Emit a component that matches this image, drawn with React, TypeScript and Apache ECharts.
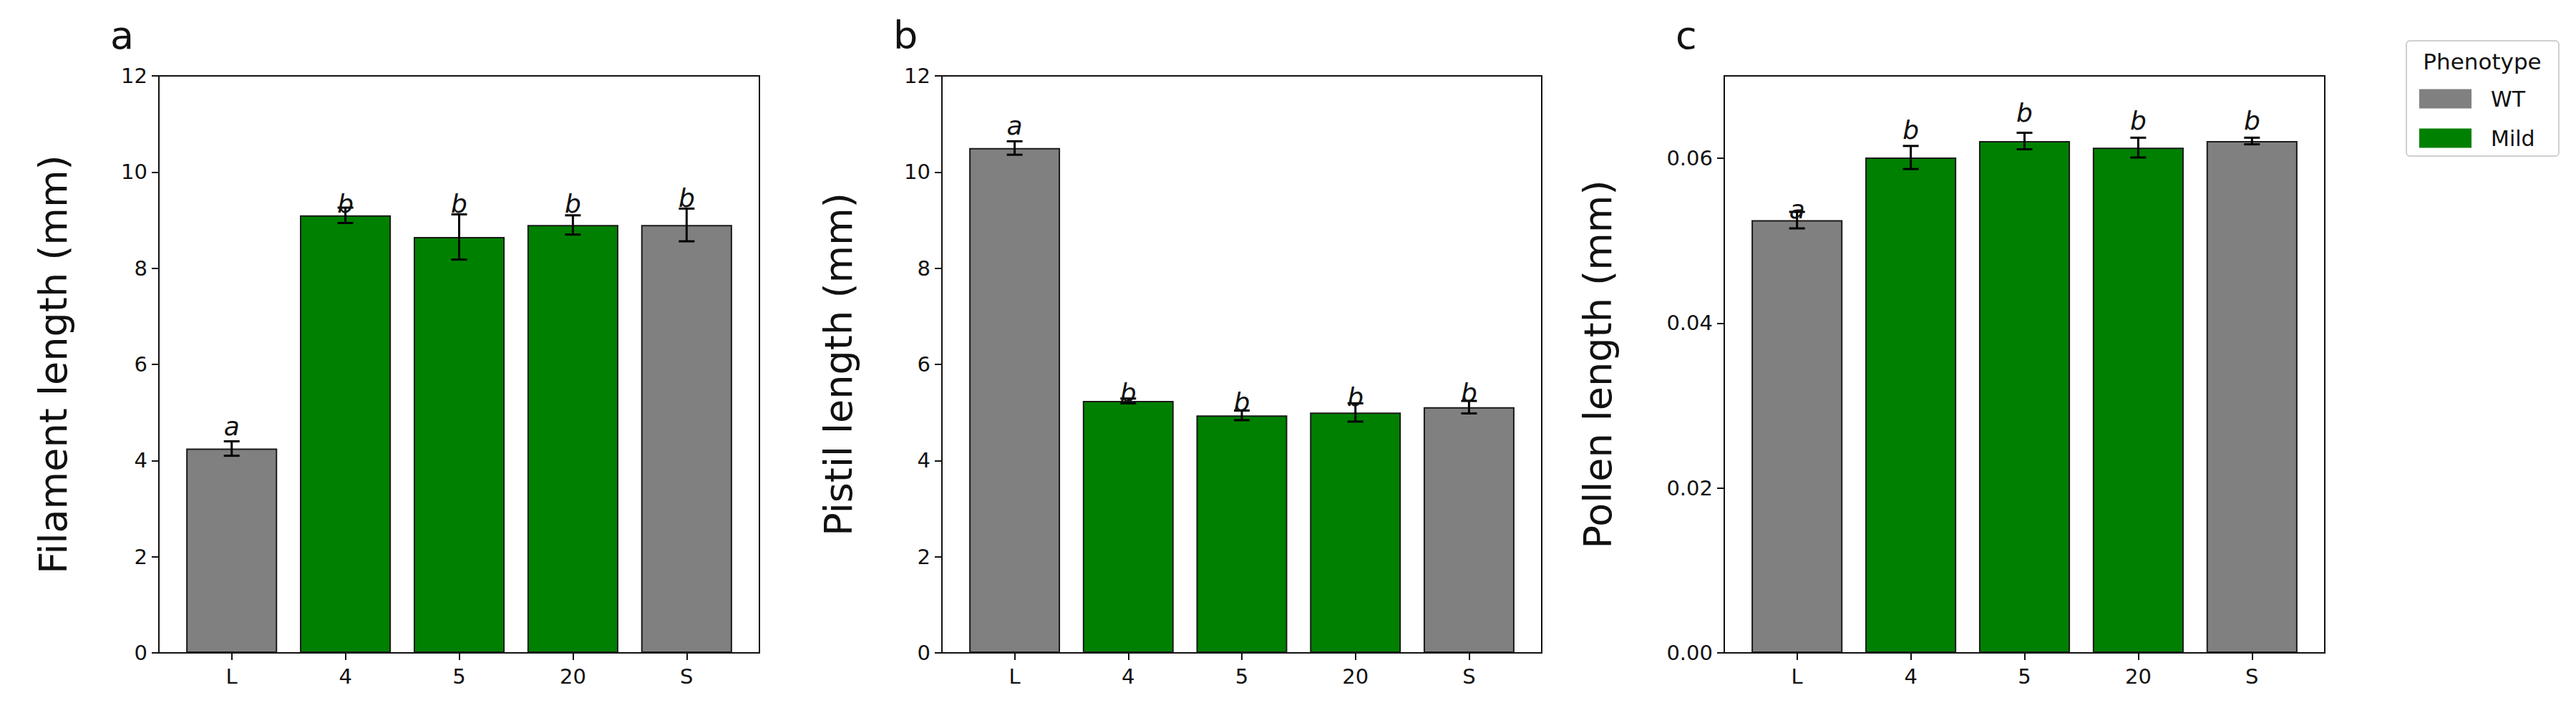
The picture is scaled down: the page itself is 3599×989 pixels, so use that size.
import React, { useEffect, useRef } from "react";
import * as echarts from "echarts";

// ---------- data ----------
const categories = ["L", "4", "5", "20", "S"];
const phenotypes = ["WT", "Mild", "Mild", "Mild", "WT"];
const phenotypeNames = ["WT", "Mild"];

const filamentMean = [4.25, 9.1, 8.65, 8.9, 8.9];
const filamentErr = [0.15, 0.16, 0.47, 0.2, 0.34];
const filamentLetters = ["a", "b", "b", "b", "b"];
const filamentLetterY = [4.45, 9.08, 9.07, 9.07, 9.2];

const pistilMean = [10.5, 5.24, 4.94, 5.0, 5.11];
const pistilErr = [0.14, 0.05, 0.1, 0.19, 0.13];
const pistilLetters = ["a", "b", "b", "b", "b"];
const pistilLetterY = [10.69, 5.14, 4.95, 5.05, 5.14];

const pollenMean = [0.0525, 0.0601, 0.0621, 0.0613, 0.0621];
const pollenErr = [0.001, 0.0014, 0.001, 0.0012, 0.0004];
const pollenLetters = ["a", "b", "b", "b", "b"];
const pollenLetterY = [0.0522, 0.0619, 0.064, 0.063, 0.063];

const yTicksLength = [0, 2, 4, 6, 8, 10, 12];
const yTicksPollen = [0, 0.02, 0.04, 0.06];
const yMaxLength = 12;
const yMaxPollen = 0.07;

const panelLetters = ["a", "b", "c"];
const yTitles = ["Filament length (mm)", "Pistil length (mm)", "Pollen length (mm)"];
const legendTitle = "Phenotype";

// ---------- styles / layout ----------
const FONT = "DejaVu Sans";
const COLORS: Record<string, string> = { WT: "#808080", Mild: "#008000" };
const GRID_TOP = 106;
const GRID_H = 806;
const GRIDS = [
  { left: 222, width: 839, nameGap: 121 },
  { left: 1316, width: 838, nameGap: 118 },
  { left: 2409, width: 839, nameGap: 150 },
];
const X_MIN = -0.64;
const X_MAX = 4.64;
const BAR_W = 0.8;

const panels = [
  { mean: filamentMean, err: filamentErr, letters: filamentLetters, letterY: filamentLetterY, ticks: yTicksLength, max: yMaxLength, dec: 0 },
  { mean: pistilMean, err: pistilErr, letters: pistilLetters, letterY: pistilLetterY, ticks: yTicksLength, max: yMaxLength, dec: 0 },
  { mean: pollenMean, err: pollenErr, letters: pollenLetters, letterY: pollenLetterY, ticks: yTicksPollen, max: yMaxPollen, dec: 2 },
];

function buildOption() {
  const xIdx = categories.map((_, i) => i);
  const grid: any[] = [];
  const xAxis: any[] = [];
  const yAxis: any[] = [];
  const series: any[] = [];
  const graphic: any[] = [];

  panels.forEach((p, i) => {
    const g = GRIDS[i];
    grid.push({
      left: g.left,
      top: GRID_TOP,
      width: g.width,
      height: GRID_H,
      show: true,
      borderColor: "#111",
      borderWidth: 2,
      backgroundColor: "transparent",
    });
    xAxis.push({
      gridIndex: i,
      type: "value",
      min: X_MIN,
      max: X_MAX,
      axisLine: { show: true, onZero: false, lineStyle: { color: "#111", width: 2 } },
      splitLine: { show: false },
      axisTick: { show: true, customValues: xIdx, length: 10, lineStyle: { color: "#111", width: 2 } },
      axisLabel: {
        customValues: xIdx,
        formatter: (v: number) => categories[Math.round(v)] ?? "",
        fontSize: 29,
        color: "#111",
        margin: 18,
        fontFamily: FONT,
      },
    });
    yAxis.push({
      gridIndex: i,
      type: "value",
      min: 0,
      max: p.max,
      name: yTitles[i],
      nameLocation: "middle",
      nameRotate: 90,
      nameGap: g.nameGap,
      nameTextStyle: { fontSize: 54, color: "#111", fontFamily: FONT },
      axisLine: { show: true, onZero: false, lineStyle: { color: "#111", width: 2 } },
      splitLine: { show: false },
      axisTick: { show: true, customValues: p.ticks, length: 10, lineStyle: { color: "#111", width: 2 } },
      axisLabel: {
        customValues: p.ticks,
        formatter: (v: number) => v.toFixed(p.dec),
        fontSize: 29,
        color: "#111",
        margin: 16,
        fontFamily: FONT,
      },
    });

    const barWidthPx = (BAR_W / (X_MAX - X_MIN)) * g.width;
    phenotypeNames.forEach((ph) => {
      series.push({
        type: "bar",
        name: ph,
        xAxisIndex: i,
        yAxisIndex: i,
        barWidth: barWidthPx,
        barGap: "-100%",
        itemStyle: { color: COLORS[ph], borderColor: "#1a1a1a", borderWidth: 2 },
        data: p.mean
          .map((m, j) => (phenotypes[j] === ph ? [j, m] : null))
          .filter((d) => d !== null),
        z: 2,
      });
    });

    // error bars
    series.push({
      type: "custom",
      name: "err" + i,
      xAxisIndex: i,
      yAxisIndex: i,
      encode: { x: 0, y: 1 },
      data: p.mean.map((m, j) => [j, m, p.err[j]]),
      z: 5,
      renderItem: (params: any, api: any) => {
        const x = api.value(0);
        const m = api.value(1);
        const e = api.value(2);
        const top = api.coord([x, m + e]);
        const bot = api.coord([x, m - e]);
        const cap = 11;
        const st = { stroke: "#000", lineWidth: 3 };
        return {
          type: "group",
          children: [
            { type: "line", shape: { x1: top[0], y1: top[1], x2: bot[0], y2: bot[1] }, style: st },
            { type: "line", shape: { x1: top[0] - cap, y1: top[1], x2: top[0] + cap, y2: top[1] }, style: st },
            { type: "line", shape: { x1: bot[0] - cap, y1: bot[1], x2: bot[0] + cap, y2: bot[1] }, style: st },
          ],
        };
      },
    });

    // significance letters
    series.push({
      type: "custom",
      name: "letters" + i,
      xAxisIndex: i,
      yAxisIndex: i,
      encode: { x: 0, y: 1 },
      data: p.letterY.map((y, j) => [j, y]),
      z: 6,
      renderItem: (params: any, api: any) => {
        const pt = api.coord([api.value(0), api.value(1)]);
        return {
          type: "text",
          x: pt[0],
          y: pt[1],
          style: {
            text: p.letters[params.dataIndex],
            fill: "#111",
            font: `italic 36px "${FONT}"`,
            textAlign: "center",
            textVerticalAlign: "bottom",
            align: "center",
            verticalAlign: "bottom",
          },
        };
      },
    });

    graphic.push({
      type: "text",
      left: g.left - 68,
      top: 22,
      style: { text: panelLetters[i], fill: "#111", font: `54px "${FONT}"` },
    });
  });

  // legend box + title
  graphic.push({
    type: "rect",
    shape: { x: 3362, y: 57, width: 213, height: 161, r: 5 },
    style: { fill: "#fff", stroke: "#cfcfcf", lineWidth: 2 },
    z: 0,
  });
  graphic.push({
    type: "text",
    x: 3468,
    y: 86,
    style: {
      text: legendTitle,
      fill: "#111",
      font: `31px "${FONT}"`,
      textAlign: "center",
      textVerticalAlign: "middle",
      align: "center",
      verticalAlign: "middle",
    },
    z: 1,
  });

  return {
    animation: false,
    backgroundColor: "#fff",
    textStyle: { fontFamily: FONT },
    grid,
    xAxis,
    yAxis,
    series,
    graphic,
    legend: {
      orient: "vertical",
      left: 3380,
      top: 123,
      padding: 0,
      itemWidth: 73,
      itemHeight: 27,
      itemGap: 25,
      icon: "rect",
      data: phenotypeNames.map((n) => ({ name: n, itemStyle: { borderWidth: 0, color: COLORS[n] } })),
      textStyle: { fontSize: 30, color: "#111", fontFamily: FONT, padding: [0, 0, 0, 22] },
      selectedMode: false,
      z: 10,
    },
  };
}

export default function App() {
  const ref = useRef<HTMLDivElement>(null);
  useEffect(() => {
    if (!ref.current) return;
    const chart = echarts.init(ref.current, null, { renderer: "svg" });
    chart.setOption(buildOption() as any);
    return () => chart.dispose();
  }, []);
  return (
    <div
      ref={ref}
      style={{ position: "fixed", left: 0, top: 0, width: 3599, height: 989, background: "#fff" }}
    />
  );
}
